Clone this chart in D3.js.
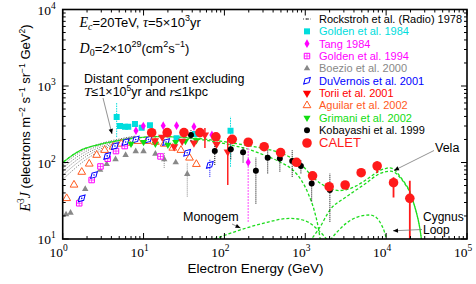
<!DOCTYPE html>
<html>
<head>
<meta charset="utf-8">
<script src="https://cdn.jsdelivr.net/npm/d3@7"></script>
<style>
  body { margin: 0; background: #fff; }
  text { font-family: "Liberation Sans", Arial, sans-serif; }
  .serif { font-family: "Liberation Serif", "Times New Roman", serif; }
</style>
</head>
<body>
<svg id="chart" width="476" height="284"></svg>
<script>
// ---- data: [energy GeV, E^3J, errLow, errHigh] ----
var rockstroh = [
  [ [1, 92], [1.5, 128], [2, 152], [3, 178], [5, 203], [8, 222] ],
  [ [1, 84], [1.5, 118], [2, 142], [3, 170], [5, 198], [8, 220] ],
  [ [1, 76], [1.5, 108], [2, 132], [3, 161], [5, 193], [8, 218] ],
  [ [1, 68], [1.5, 98], [2, 122], [3, 152], [5, 187], [8, 216] ],
  [ [1, 60], [1.5, 88], [2, 112], [3, 143], [5, 181], [8, 214] ]
];
var golden84 = [ [4.65, 394, 215, 600], [5.11, 300], [5.89, 294], [6.47, 294], [7.83, 318], [9.48, 285],
  [12, 306], [25.6, 207], [43.2, 236], [119, 261, 88, 398] ];
var tang84 = [ [8.06, 261], [9.92, 300], [17.5, 303], [25.6, 303], [42, 294], [70, 229], [197, 100.6, 16.7, 180] ];
var golden94 = [ [1.6, 29.3], [2.28, 59], [2.93, 88.8], [3.6, 112], [4.56, 141], [5.84, 164], [16.2, 120] ];
var boezio00 = [ [1.1, 21], [1.25, 22], [1.6, 32], [1.9, 45], [2.3, 62], [2.9, 80], [3.5, 95], [4.5, 110],
  [6, 125], [8, 140], [10, 140], [14, 130], [18, 110, 85, 135], [25, 100], [34.7, 70.6, 35.8, 100] ];
var duvernois01 = [ [1.72, 34], [2.44, 68.6], [3.55, 122], [4.43, 164], [6, 185], [8, 200], [11.5, 200],
  [19, 185], [34.6, 134], [66, 93, 65, 110] ];
var torii01 = [ [13.8, 193], [17, 215], [23.9, 161], [30, 190], [42, 180], [57.4, 229, 155, 283], [80, 173],
  [110, 138, 50.7, 209] ];
var aguilar02 = [ [1.12, 34], [1.38, 51], [1.72, 75], [2.13, 96], [2.63, 125], [3.3, 145], [4.2, 160],
  [5.3, 175], [6.5, 180], [8.5, 190], [11, 190], [14, 185], [18, 175], [23, 155], [29, 145], [37, 115], [45, 95] ];
var grimani02 = [ [7, 175], [10, 185], [14, 175], [20, 170], [25, 185], [33, 190], [45, 195] ];
var kobayashi99 = [ [38.6, 229, 190, 270], [76, 141, 93, 170], [120, 149, 110, 190], [170, 136, 100, 160],
  [245, 78, 29, 117], [343, 115, 72, 145], [485, 113, 76, 138], [689, 105, 65, 145], [883, 90, 72, 108],
  [1200, 53, 31, 68], [2015, 43.7, 16.8, 72] ];
var calet = [ [12.6, 245], [19.6, 246], [31.6, 246], [49.8, 246], [78.5, 217], [125, 201], [197, 184],
  [310, 161], [495, 135], [780, 100.6], [1230, 67], [1974, 48.3], [3112, 50.8], [4910, 73.6],
  [7740, 90, 73, 104], [12340, 54.4, 35, 64], [19630, 34, 10, 57.8] ];

// model curves
var totalCurve = [ [1, 100], [1.64, 143], [2.9, 173], [5.1, 195], [9, 212], [16, 218], [28, 215], [50, 205],
  [80, 193], [125, 180], [200, 166], [310, 152], [500, 133], [700, 112], [900, 93], [1250, 64], [1600, 52],
  [2000, 46], [2600, 43], [3200, 44], [4200, 49], [5200, 56], [6500, 66], [8300, 78], [10000, 84],
  [11100, 85], [12800, 80], [14800, 66], [17000, 54], [19600, 42], [22000, 29], [23800, 21.7], [26100, 13.8], [27400, 9.7] ];
var distantCurve = [ [1, 100], [1.64, 143], [2.9, 173], [5.1, 195], [9, 212], [16, 218], [28, 213], [50, 200],
  [80, 185], [125, 168], [200, 148], [310, 125], [500, 100], [700, 80], [900, 58], [1100, 38], [1300, 23],
  [1450, 14], [1550, 9] ];
var monogemCurve = [ [60, 9.5], [73, 10], [155, 13.1], [300, 16], [647, 18.6], [857, 18.1], [1100, 16.5],
  [1400, 13.5], [1700, 11], [1900, 9.5] ];
var cygnusCurve = [ [2000, 9.5], [2500, 12.5], [3200, 16], [4200, 19], [6285, 20.6], [7600, 19], [8700, 15.5],
  [9500, 12.5], [10200, 9.5] ];
var velaCurve = [ [1150, 9.5], [1500, 14], [2015, 23.9], [3240, 35.7], [5700, 54], [8000, 70], [10000, 76],
  [11500, 77], [12800, 74], [14800, 64], [17000, 53], [19600, 41], [22000, 29], [23800, 21.7], [26100, 13.8], [27400, 9.7] ];

var legendNames = [ 'Rockstroh et al. (Radio) 1978', 'Golden et al. 1984', 'Tang 1984', 'Golden et al. 1994',
  'Boezio et al. 2000', 'DuVernois et al. 2001', 'Torii et al. 2001', 'Aguilar et al. 2002',
  'Grimani et al. 2002', 'Kobayashi et al. 1999', 'CALET' ];
var legendColors = [ '#000', '#00dddd', '#ff00ff', '#ff00ff', '#888888', '#0000ff', '#ff0000', '#ff5a1e',
  '#11dd11', '#000', '#ff1a1a' ];

var svg = d3.select( '#chart' ),
  margin = { top: 9.5, right: 9, bottom: 45, left: 62.7 },
  W = +svg.attr( 'width' ), H = +svg.attr( 'height' );

var x = d3.scaleLog().domain( [ 1, 1e5 ] ).range( [ margin.left, W - margin.right ] );
var y = d3.scaleLog().domain( [ 10, 1e4 ] ).range( [ H - margin.bottom, margin.top ] );
var x0 = x.range()[ 0 ], x1 = x.range()[ 1 ], y0 = y.range()[ 0 ], y1 = y.range()[ 1 ];

svg.append( 'defs' ).append( 'clipPath' ).attr( 'id', 'clip' )
  .append( 'rect' ).attr( 'x', x0 ).attr( 'y', y1 ).attr( 'width', x1 - x0 ).attr( 'height', y0 - y1 );

var plot = svg.append( 'g' ).attr( 'clip-path', 'url(#clip)' );

var line = d3.line()
  .curve( d3.curveMonotoneX )
  .x( d => x( d[ 0 ] ) )
  .y( d => y( d[ 1 ] ) );

/* Rockstroh radio band */
rockstroh.forEach( r => {
  plot.append( 'path' ).attr( 'd', line( r ) )
    .attr( 'fill', 'none' ).attr( 'stroke', '#444' ).attr( 'stroke-width', 0.8 )
    .attr( 'stroke-dasharray', '1,1.6' );
} );

/* model curves */
var green = '#1cdc1c';
[ distantCurve, monogemCurve, cygnusCurve, velaCurve, totalCurve ].forEach( ( c, i ) => {
  plot.append( 'path' ).attr( 'd', line( c ) )
    .attr( 'fill', 'none' ).attr( 'stroke', green ).attr( 'stroke-width', 1.3 )
    .attr( 'stroke-dasharray', '3,2' ).attr( 'stroke-dashoffset', i * 2 );
} );

/* data sets */
function errBars( data, color, dash, width ) {
  plot.selectAll( null ).data( data.filter( d => d.length > 2 ) ).enter().append( 'line' )
    .attr( 'x1', d => x( d[ 0 ] ) ).attr( 'x2', d => x( d[ 0 ] ) )
    .attr( 'y1', d => y( d[ 2 ] ) ).attr( 'y2', d => y( d[ 3 ] ) )
    .attr( 'stroke', color ).attr( 'stroke-width', width || 1 )
    .attr( 'stroke-dasharray', dash );
}

function markers( data, shape, size, rot, fill, stroke, sw ) {
  plot.selectAll( null ).data( data ).enter().append( 'path' )
    .attr( 'd', d3.symbol( shape, size ) )
    .attr( 'transform', d => 'translate(' + x( d[ 0 ] ) + ',' + y( d[ 1 ] ) + ') rotate(' + rot + ')' )
    .attr( 'fill', fill ).attr( 'stroke', stroke ).attr( 'stroke-width', sw );
}

errBars( boezio00, '#888', '1,1' );
markers( boezio00, d3.symbolTriangle, 18, 0, '#888', 'none', 0 );
errBars( aguilar02, '#ff5a1e', '1,1' );
markers( aguilar02, d3.symbolTriangle, 26, 0, '#fff', '#ff5a1e', 1 );
errBars( golden94, '#ff00ff', '1,1' );
markers( golden94, d3.symbolSquare, 30, 0, '#fff', '#ff00ff', 1 );
plot.selectAll( null ).data( golden94 ).enter().append( 'path' )
  .attr( 'd', d => { var cx = x( d[ 0 ] ), cy = y( d[ 1 ] );
    return 'M' + ( cx - 2.7 ) + ',' + cy + 'H' + ( cx + 2.7 ) + 'M' + cx + ',' + ( cy - 2.7 ) + 'V' + ( cy + 2.7 ); } )
  .attr( 'stroke', '#ff00ff' ).attr( 'stroke-width', 0.7 );
errBars( duvernois01, '#0000ff', '1,1' );
markers( duvernois01, d3.symbolDiamond, 26, 45, '#fff', '#0000ff', 1 );
markers( duvernois01, d3.symbolCircle, 2, 0, '#0000ff', 'none', 0 );
errBars( golden84, '#00dddd', '1.5,1' );
markers( golden84, d3.symbolSquare, 36, 0, '#00dddd', 'none', 0 );
errBars( tang84, '#ff88ff', '2,1', 1.5 );
markers( tang84, d3.symbolDiamond, 22, 0, '#ff00ff', 'none', 0 );
errBars( grimani02, '#11dd11', '1,1' );
markers( grimani02, d3.symbolTriangle, 22, 180, '#11dd11', 'none', 0 );
errBars( torii01, '#ff2020', null, 1.5 );
markers( torii01, d3.symbolTriangle, 30, 180, '#ff2020', 'none', 0 );
errBars( kobayashi99, '#000', '1,1' );
markers( kobayashi99, d3.symbolCircle, 28, 0, '#000', 'none', 0 );
errBars( calet, '#ff1a1a', null, 1.8 );
markers( calet, d3.symbolCircle, 72, 0, '#ff1a1a', 'none', 0 );

/* frame and ticks */
var majX = d3.range( 0, 6 ).map( p => Math.pow( 10, p ) );
var minX = [];
for ( var p = 0; p < 5; p++ ) for ( var k = 2; k < 10; k++ ) minX.push( k * Math.pow( 10, p ) );
var majY = d3.range( 1, 5 ).map( p => Math.pow( 10, p ) );
var minY = [];
for ( var p = 1; p < 4; p++ ) for ( var k = 2; k < 10; k++ ) minY.push( k * Math.pow( 10, p ) );

var ax = svg.append( 'g' ).attr( 'stroke', '#000' ).attr( 'stroke-width', 1 );
majX.forEach( v => {
  ax.append( 'line' ).attr( 'x1', x( v ) ).attr( 'x2', x( v ) ).attr( 'y1', y0 ).attr( 'y2', y0 - 6 );
  ax.append( 'line' ).attr( 'x1', x( v ) ).attr( 'x2', x( v ) ).attr( 'y1', y1 ).attr( 'y2', y1 + 6 );
} );
minX.forEach( v => {
  ax.append( 'line' ).attr( 'x1', x( v ) ).attr( 'x2', x( v ) ).attr( 'y1', y0 ).attr( 'y2', y0 - 3 );
  ax.append( 'line' ).attr( 'x1', x( v ) ).attr( 'x2', x( v ) ).attr( 'y1', y1 ).attr( 'y2', y1 + 3 );
} );
majY.forEach( v => {
  ax.append( 'line' ).attr( 'y1', y( v ) ).attr( 'y2', y( v ) ).attr( 'x1', x0 ).attr( 'x2', x0 + 6 );
  ax.append( 'line' ).attr( 'y1', y( v ) ).attr( 'y2', y( v ) ).attr( 'x1', x1 ).attr( 'x2', x1 - 6 );
} );
minY.forEach( v => {
  ax.append( 'line' ).attr( 'y1', y( v ) ).attr( 'y2', y( v ) ).attr( 'x1', x0 ).attr( 'x2', x0 + 3 );
  ax.append( 'line' ).attr( 'y1', y( v ) ).attr( 'y2', y( v ) ).attr( 'x1', x1 ).attr( 'x2', x1 - 3 );
} );
svg.append( 'rect' ).attr( 'x', x0 ).attr( 'y', y1 ).attr( 'width', x1 - x0 ).attr( 'height', y0 - y1 )
  .attr( 'fill', 'none' ).attr( 'stroke', '#000' ).attr( 'stroke-width', 1.6 );

/* tick labels */
majX.forEach( ( v, i ) => {
  var t = svg.append( 'text' ).attr( 'class', 'serif' ).attr( 'x', x( v ) - 4 ).attr( 'y', y0 + 18 )
    .attr( 'text-anchor', 'middle' ).attr( 'font-size', 13.5 );
  t.append( 'tspan' ).text( '10' );
  t.append( 'tspan' ).attr( 'dy', -6 ).attr( 'font-size', 9.5 ).text( i );
} );
majY.forEach( ( v, i ) => {
  var t = svg.append( 'text' ).attr( 'class', 'serif' ).attr( 'x', x0 - 7 ).attr( 'y', y( v ) + 5 )
    .attr( 'text-anchor', 'end' ).attr( 'font-size', 13.5 );
  t.append( 'tspan' ).text( '10' );
  t.append( 'tspan' ).attr( 'dy', -6 ).attr( 'font-size', 9.5 ).text( i + 1 );
} );

/* axis titles */
svg.append( 'text' ).attr( 'x', 255.5 ).attr( 'y', 272.5 ).attr( 'text-anchor', 'middle' )
  .attr( 'font-size', 13.5 ).text( 'Electron Energy (GeV)' );

var yl = svg.append( 'text' ).attr( 'transform', 'translate(30,118) rotate(-90)' )
  .attr( 'text-anchor', 'middle' ).attr( 'font-size', 13 );
yl.append( 'tspan' ).attr( 'class', 'serif' ).attr( 'font-style', 'italic' ).attr( 'font-size', 14 ).text( 'E' );
yl.append( 'tspan' ).attr( 'class', 'serif' ).attr( 'dy', -6 ).attr( 'font-size', 9.5 ).text( '3' );
yl.append( 'tspan' ).attr( 'class', 'serif' ).attr( 'dy', 6 ).attr( 'font-style', 'italic' ).attr( 'font-size', 14 ).text( 'J' );
yl.append( 'tspan' ).text( ' (electrons m' );
yl.append( 'tspan' ).attr( 'dy', -5 ).attr( 'font-size', 8.5 ).text( '\u22122' );
yl.append( 'tspan' ).attr( 'dy', 5 ).text( ' s' );
yl.append( 'tspan' ).attr( 'dy', -5 ).attr( 'font-size', 8.5 ).text( '\u22121' );
yl.append( 'tspan' ).attr( 'dy', 5 ).text( ' sr' );
yl.append( 'tspan' ).attr( 'dy', -5 ).attr( 'font-size', 8.5 ).text( '\u22121' );
yl.append( 'tspan' ).attr( 'dy', 5 ).text( ' GeV' );
yl.append( 'tspan' ).attr( 'dy', -5 ).attr( 'font-size', 8.5 ).text( '2' );
yl.append( 'tspan' ).attr( 'dy', 5 ).text( ')' );

/* parameter annotations */
var a1 = svg.append( 'text' ).attr( 'x', 79.5 ).attr( 'y', 27 ).attr( 'font-size', 13 );
a1.append( 'tspan' ).attr( 'class', 'serif' ).attr( 'font-style', 'italic' ).attr( 'font-size', 14 ).text( 'E' );
a1.append( 'tspan' ).attr( 'class', 'serif' ).attr( 'font-style', 'italic' ).attr( 'font-size', 10 ).attr( 'dy', 3 ).text( 'c' );
a1.append( 'tspan' ).attr( 'dy', -3 ).text( '=20TeV, ' );
a1.append( 'tspan' ).attr( 'class', 'serif' ).attr( 'font-style', 'italic' ).attr( 'font-size', 14 ).text( '\u03c4' );
a1.append( 'tspan' ).text( '=5\u00d710' );
a1.append( 'tspan' ).attr( 'dy', -6 ).attr( 'font-size', 9 ).text( '3' );
a1.append( 'tspan' ).attr( 'dy', 6 ).text( 'yr' );

var a2 = svg.append( 'text' ).attr( 'x', 79.5 ).attr( 'y', 52.5 ).attr( 'font-size', 13 );
a2.append( 'tspan' ).attr( 'class', 'serif' ).attr( 'font-style', 'italic' ).attr( 'font-size', 14 ).text( 'D' );
a2.append( 'tspan' ).attr( 'class', 'serif' ).attr( 'font-size', 10 ).attr( 'dy', 3 ).text( '0' );
a2.append( 'tspan' ).attr( 'dy', -3 ).text( '=2\u00d710' );
a2.append( 'tspan' ).attr( 'dy', -6 ).attr( 'font-size', 9 ).text( '29' );
a2.append( 'tspan' ).attr( 'dy', 6 ).text( '(cm' );
a2.append( 'tspan' ).attr( 'dy', -6 ).attr( 'font-size', 9 ).text( '2' );
a2.append( 'tspan' ).attr( 'dy', 6 ).text( 's' );
a2.append( 'tspan' ).attr( 'dy', -6 ).attr( 'font-size', 9 ).text( '\u22121' );
a2.append( 'tspan' ).attr( 'dy', 6 ).text( ')' );

svg.append( 'text' ).attr( 'x', 84 ).attr( 'y', 82.5 ).attr( 'font-size', 12.5 ).text( 'Distant component excluding' );
var a3 = svg.append( 'text' ).attr( 'x', 84 ).attr( 'y', 95.5 ).attr( 'font-size', 12.5 );
a3.append( 'tspan' ).attr( 'class', 'serif' ).attr( 'font-style', 'italic' ).attr( 'font-size', 13.5 ).text( 'T' );
a3.append( 'tspan' ).text( '\u22641\u00d710' );
a3.append( 'tspan' ).attr( 'dy', -5 ).attr( 'font-size', 8.5 ).text( '5' );
a3.append( 'tspan' ).attr( 'dy', 5 ).text( 'yr and ' );
a3.append( 'tspan' ).attr( 'class', 'serif' ).attr( 'font-style', 'italic' ).attr( 'font-size', 13.5 ).text( 'r' );
a3.append( 'tspan' ).text( '\u22641kpc' );

svg.append( 'text' ).attr( 'x', 183 ).attr( 'y', 221 ).attr( 'font-size', 12.5 ).text( 'Monogem' );
svg.append( 'text' ).attr( 'x', 435 ).attr( 'y', 152 ).attr( 'font-size', 12.5 ).text( 'Vela' );
svg.append( 'text' ).attr( 'x', 423 ).attr( 'y', 221 ).attr( 'font-size', 12 ).text( 'Cygnus' );
svg.append( 'text' ).attr( 'x', 423 ).attr( 'y', 233.5 ).attr( 'font-size', 12 ).text( 'Loop' );

/* annotation arrows */
var arrows = [ [ 103, 98, 112, 134 ], [ 232, 224, 240.5, 228 ], [ 434, 150.5, 394, 170.5 ], [ 422, 229.5, 393, 230.8 ] ];
arrows.forEach( a => {
  svg.append( 'line' ).attr( 'x1', a[ 0 ] ).attr( 'y1', a[ 1 ] ).attr( 'x2', a[ 2 ] ).attr( 'y2', a[ 3 ] )
    .attr( 'stroke', '#777' ).attr( 'stroke-width', 0.8 );
  var ang = Math.atan2( a[ 3 ] - a[ 1 ], a[ 2 ] - a[ 0 ] ) * 180 / Math.PI;
  svg.append( 'path' ).attr( 'd', 'M0,0L-5,-2.2L-5,2.2Z' ).attr( 'fill', '#000' )
    .attr( 'transform', 'translate(' + a[ 2 ] + ',' + a[ 3 ] + ') rotate(' + ang + ')' );
} );

/* legend */
var leg = svg.append( 'g' ).attr( 'class', 'legend' );
legendNames.forEach( ( name, i ) => {
  var ly = 19 + i * 12.35, mx = 307, c = legendColors[ i ];
  var last = i === legendNames.length - 1;
  if ( last ) ly += 0.5;
  var g = leg.append( 'g' ).attr( 'transform', 'translate(' + mx + ',' + ly + ')' );
  if ( i === 0 ) {
    g.append( 'line' ).attr( 'x1', -4 ).attr( 'x2', 4 ).attr( 'stroke', '#000' ).attr( 'stroke-width', 0.8 ).attr( 'stroke-dasharray', '1,1.5' );
    g.append( 'circle' ).attr( 'r', 0.8 ).attr( 'fill', '#000' );
  } else if ( i === 1 ) {
    g.append( 'path' ).attr( 'd', d3.symbol( d3.symbolSquare, 36 ) ).attr( 'fill', c );
  } else if ( i === 2 ) {
    g.append( 'path' ).attr( 'd', d3.symbol( d3.symbolDiamond, 22 ) ).attr( 'fill', c );
  } else if ( i === 3 ) {
    g.append( 'path' ).attr( 'd', d3.symbol( d3.symbolSquare, 30 ) ).attr( 'fill', '#fff' ).attr( 'stroke', c );
    g.append( 'path' ).attr( 'd', 'M-2.7,0H2.7M0,-2.7V2.7' ).attr( 'stroke', c ).attr( 'stroke-width', 0.7 );
  } else if ( i === 4 ) {
    g.append( 'path' ).attr( 'd', d3.symbol( d3.symbolTriangle, 18 ) ).attr( 'fill', c );
  } else if ( i === 5 ) {
    g.append( 'path' ).attr( 'd', d3.symbol( d3.symbolDiamond, 26 ) ).attr( 'transform', 'rotate(45)' ).attr( 'fill', '#fff' ).attr( 'stroke', c );
  } else if ( i === 6 ) {
    g.append( 'path' ).attr( 'd', d3.symbol( d3.symbolTriangle, 30 ) ).attr( 'transform', 'rotate(180)' ).attr( 'fill', c );
  } else if ( i === 7 ) {
    g.append( 'path' ).attr( 'd', d3.symbol( d3.symbolTriangle, 26 ) ).attr( 'fill', '#fff' ).attr( 'stroke', c );
  } else if ( i === 8 ) {
    g.append( 'path' ).attr( 'd', d3.symbol( d3.symbolTriangle, 22 ) ).attr( 'transform', 'rotate(180)' ).attr( 'fill', c );
  } else if ( i === 9 ) {
    g.append( 'path' ).attr( 'd', d3.symbol( d3.symbolCircle, 28 ) ).attr( 'fill', c );
  } else {
    g.append( 'path' ).attr( 'd', d3.symbol( d3.symbolCircle, 72 ) ).attr( 'fill', c );
  }
  leg.append( 'text' ).attr( 'x', 319 ).attr( 'y', ly + 4 ).attr( 'font-size', last ? 13 : 11 )
    .attr( 'fill', c === '#000' ? '#000' : c ).text( name );
} );
</script>
</body>
</html>
